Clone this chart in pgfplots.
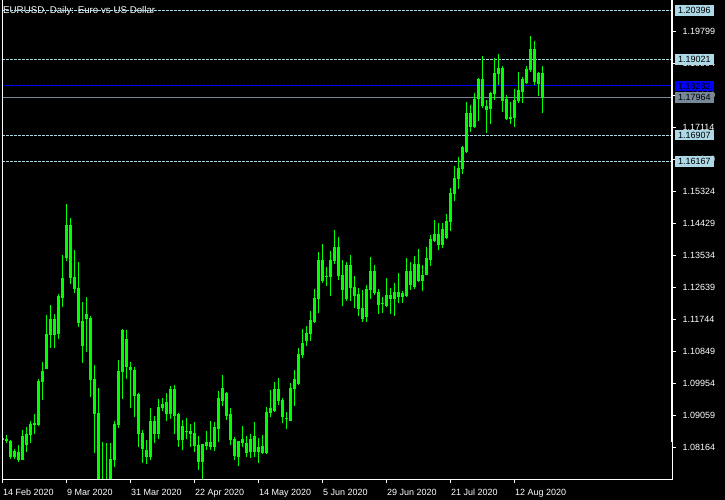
\documentclass[border=0pt]{standalone}
\usepackage{pgfplots}
\pgfplotsset{compat=1.18}
\usepackage{pgfplotstable}
\usepackage{fontspec}
\setmainfont{Liberation Sans}
\definecolor{mtlime}{HTML}{00FF00}
\definecolor{mtlblue}{HTML}{ADD8E6}
\definecolor{mtblue}{HTML}{0000FF}
\definecolor{mtgray}{HTML}{778899}
\pgfplotstableread{
i o h l c
0 1.0838 1.0845 1.0831 1.0843
1 1.0837 1.0851 1.0830 1.0840
2 1.0834 1.0838 1.0786 1.0791
3 1.0791 1.0813 1.0784 1.0806
4 1.0803 1.0823 1.0777 1.0784
5 1.0784 1.0866 1.0782 1.0848
6 1.0826 1.0873 1.0803 1.0854
7 1.0854 1.0890 1.0830 1.0882
8 1.0882 1.0911 1.0854 1.0883
9 1.0880 1.1009 1.0877 1.1002
10 1.1001 1.1055 1.0950 1.1030
11 1.1038 1.1188 1.1036 1.1133
12 1.1133 1.1215 1.1096 1.1174
13 1.1174 1.1190 1.1096 1.1133
14 1.1136 1.1245 1.1119 1.1238
15 1.1236 1.1355 1.1210 1.1290
16 1.1348 1.1498 1.1339 1.1438
17 1.1438 1.1459 1.1275 1.1292
18 1.1292 1.1369 1.1250 1.1261
19 1.1262 1.1336 1.1155 1.1167
20 1.1169 1.1224 1.1054 1.1103
21 1.1189 1.1238 1.1084 1.1178
22 1.1178 1.1186 1.0957 1.1008
23 1.1008 1.1047 1.0802 1.0913
24 1.0913 1.0982 1.0655 1.0692
25 1.0692 1.0831 1.0636 1.0697
26 1.0697 1.0829 1.0637 1.0723
27 1.0723 1.0830 1.0725 1.0784
28 1.0784 1.0891 1.0761 1.0882
29 1.0882 1.1062 1.0871 1.1030
30 1.1030 1.1148 1.0953 1.1145
31 1.1118 1.1146 1.1009 1.1043
32 1.1041 1.1056 1.0926 1.1036
33 1.1031 1.1041 1.0903 1.0962
34 1.0964 1.0968 1.0819 1.0856
35 1.0857 1.0866 1.0773 1.0815
36 1.0809 1.0838 1.0770 1.0791
37 1.0791 1.0927 1.0782 1.0890
38 1.0890 1.0905 1.0830 1.0856
39 1.0856 1.0953 1.0842 1.0930
40 1.0928 1.0954 1.0920 1.0936
41 1.0943 1.0968 1.0892 1.0912
42 1.0912 1.0989 1.0897 1.0980
43 1.0980 1.0991 1.0855 1.0906
44 1.0910 1.0912 1.0817 1.0840
45 1.0840 1.0894 1.0810 1.0877
46 1.0863 1.0899 1.0842 1.0862
47 1.0863 1.0883 1.0817 1.0856
48 1.0857 1.0888 1.0803 1.0822
49 1.0822 1.0849 1.0754 1.0777
50 1.0777 1.0828 1.0727 1.0826
51 1.0822 1.0863 1.0810 1.0830
52 1.0830 1.0891 1.0810 1.0819
53 1.0819 1.0888 1.0808 1.0874
54 1.0870 1.0975 1.0833 1.0953
55 1.0949 1.1020 1.0933 1.0983
56 1.0968 1.0973 1.0894 1.0906
57 1.0908 1.0927 1.0824 1.0838
58 1.0840 1.0845 1.0782 1.0794
59 1.0791 1.0835 1.0766 1.0834
60 1.0830 1.0877 1.0817 1.0840
61 1.0827 1.0849 1.0791 1.0804
62 1.0805 1.0855 1.0787 1.0840
63 1.0847 1.0888 1.0791 1.0807
64 1.0817 1.0843 1.0774 1.0805
65 1.0804 1.0851 1.0800 1.0821
66 1.0802 1.0931 1.0800 1.0916
67 1.0915 1.0978 1.0903 1.0925
68 1.0919 1.1000 1.0916 1.0978
69 1.0978 1.1011 1.0936 1.0947
70 1.0947 1.0955 1.0886 1.0903
71 1.0897 1.0916 1.0869 1.0898
72 1.0892 1.0997 1.0892 1.0983
73 1.0981 1.1034 1.0933 1.1006
74 1.0995 1.1095 1.0992 1.1078
75 1.1076 1.1148 1.1067 1.1109
76 1.1115 1.1157 1.1101 1.1137
77 1.1135 1.1199 1.1115 1.1171
78 1.1168 1.1260 1.1165 1.1235
79 1.1233 1.1364 1.1193 1.1339
80 1.1339 1.1386 1.1277 1.1285
81 1.1296 1.1322 1.1269 1.1295
82 1.1295 1.1367 1.1241 1.1341
83 1.1339 1.1425 1.1330 1.1375
84 1.1375 1.1406 1.1285 1.1298
85 1.1297 1.1341 1.1213 1.1260
86 1.1235 1.1336 1.1227 1.1325
87 1.1325 1.1355 1.1227 1.1264
88 1.1264 1.1297 1.1207 1.1242
89 1.1246 1.1263 1.1185 1.1205
90 1.1206 1.1257 1.1167 1.1178
91 1.1183 1.1271 1.1169 1.1259
92 1.1259 1.1350 1.1231 1.1310
93 1.1310 1.1327 1.1243 1.1250
94 1.1251 1.1260 1.1190 1.1217
95 1.1220 1.1239 1.1194 1.1221
96 1.1215 1.1290 1.1211 1.1242
97 1.1242 1.1262 1.1190 1.1233
98 1.1233 1.1276 1.1185 1.1251
99 1.1251 1.1304 1.1222 1.1239
100 1.1239 1.1255 1.1220 1.1248
101 1.1242 1.1347 1.1239 1.1310
102 1.1310 1.1336 1.1257 1.1273
103 1.1267 1.1353 1.1260 1.1329
104 1.1329 1.1371 1.1280 1.1283
105 1.1283 1.1327 1.1255 1.1299
106 1.1300 1.1378 1.1300 1.1346
107 1.1342 1.1411 1.1325 1.1399
108 1.1397 1.1453 1.1392 1.1414
109 1.1414 1.1445 1.1369 1.1384
110 1.1384 1.1445 1.1374 1.1427
111 1.1404 1.1470 1.1400 1.1449
112 1.1449 1.1543 1.1422 1.1528
113 1.1528 1.1604 1.1506 1.1570
114 1.1569 1.1629 1.1540 1.1598
115 1.1597 1.1660 1.1583 1.1657
116 1.1644 1.1783 1.1642 1.1751
117 1.1752 1.1775 1.1700 1.1714
118 1.1714 1.1807 1.1710 1.1791
119 1.1792 1.1849 1.1731 1.1847
120 1.1847 1.1912 1.1767 1.1773
121 1.1771 1.1789 1.1696 1.1763
122 1.1765 1.1812 1.1722 1.1806
123 1.1806 1.1905 1.1789 1.1863
124 1.1863 1.1918 1.1831 1.1877
125 1.1877 1.1884 1.1756 1.1787
126 1.1789 1.1803 1.1736 1.1737
127 1.1737 1.1784 1.1722 1.1741
128 1.1739 1.1820 1.1712 1.1786
129 1.1786 1.1868 1.1780 1.1814
130 1.1812 1.1854 1.1780 1.1845
131 1.1838 1.1884 1.1834 1.1873
132 1.1873 1.1968 1.1868 1.1931
133 1.1931 1.1955 1.1831 1.1840
134 1.1835 1.1866 1.1800 1.1862
135 1.1862 1.1884 1.1753 1.1796
}\candles
\pgfplotsset{
  mtframe/.style={
    at={(2pt,21pt)}, anchor=south west,
    scale only axis, width=670pt, height=479pt,
    xmin=-0.125, xmax=167.375,
    ymin=1.07288, ymax=1.20685,
  },
  mtdash/.style={line width=1pt, dash pattern=on 2.7pt off 1.3pt},
}
\begin{document}
\begin{tikzpicture}[x=1pt,y=1pt,font=\fontsize{9}{10}\selectfont]
\fill[black] (0,0) rectangle (725,500);
\useasboundingbox (0,0) rectangle (725,500);
\node[anchor=base west, inner sep=0pt, text=white, font=\fontsize{9.75}{11}\selectfont] at (3,486.7) {EURUSD, Daily: Euro vs US Dollar};
% horizontal levels
\begin{axis}[mtframe, hide axis]
\addplot[mtlblue, mtdash] coordinates {(-0.125,1.20396) (167.375,1.20396)};
\addplot[mtlblue, mtdash] coordinates {(-0.125,1.19021) (167.375,1.19021)};
\addplot[mtblue, mtdash] coordinates {(-0.125,1.18282) (167.375,1.18282)};
\addplot[mtgray, line width=1pt] coordinates {(-0.125,1.17964) (167.375,1.17964)};
\addplot[mtlblue, mtdash] coordinates {(-0.125,1.16907) (167.375,1.16907)};
\addplot[mtlblue, mtdash] coordinates {(-0.125,1.16167) (167.375,1.16167)};
\end{axis}
% candles
\begin{axis}[mtframe,
  ybar stacked, bar width=2pt,
  axis x line*=bottom, axis y line*=right,
  axis line style={draw=none},
  xtick={0,16,32,48,64,80,96,112,128},
  xticklabels={14 Feb 2020,9 Mar 2020,31 Mar 2020,22 Apr 2020,14 May 2020,5 Jun 2020,29 Jun 2020,21 Jul 2020,12 Aug 2020},
  ytick={1.08164,1.09059,1.09954,1.10849,1.11744,1.12639,1.13534,1.14429,1.15324,1.16219,1.17114,1.18009,1.18904,1.19799},
  yticklabels={1.08164,1.09059,1.09954,1.10849,1.11744,1.12639,1.13534,1.14429,1.15324,1.16219,1.17114,1.18009,1.18904,1.19799},
  tick align=outside, major tick length=4pt,
  tick style={white, line width=1pt},
  ticklabel style={text=white, font=\fontsize{9}{10}\selectfont, inner sep=0pt},
  xticklabel style={anchor=base west, xshift=0.4pt, yshift=-12.7pt},
  yticklabel style={anchor=west, xshift=6.3pt},
]
\addplot[draw=none, fill=none,
  error bars/.cd, y dir=both, y explicit, error mark=none,
  error bar style={draw=mtlime, line width=1pt}]
  table[x=i, y expr={min(\thisrow{o},\thisrow{c})},
        y error plus expr={\thisrow{h}-min(\thisrow{o},\thisrow{c})},
        y error minus expr={min(\thisrow{o},\thisrow{c})-\thisrow{l}}] {\candles};
\addplot[fill=black, draw=mtlime, line width=1pt]
  table[x=i, y expr={max(\thisrow{c}-\thisrow{o},0)}] {\candles};
\addplot[fill=white, draw=mtlime, line width=1pt]
  table[x=i, y expr={max(\thisrow{o}-\thisrow{c},0)}] {\candles};
\end{axis}
% frame
\draw[white, line width=1pt] (2.5,500) -- (2.5,20.5);
\draw[white, line width=1pt] (2,20.5) -- (673,20.5);
\fill[white] (671,500) rectangle (673,58);
\draw[white, line width=1pt] (672.5,58) -- (672.5,20.5);
% level labels
\tikzset{lvl/.style={anchor=west, inner sep=0pt, minimum width=39.5pt, minimum height=10.7pt, text=black}}
\node[lvl, fill=mtlblue] at (674.5,489.67) {1.20396};
\node[lvl, fill=mtlblue] at (674.5,440.50) {1.19021};
\node[lvl, fill=mtblue] at (674.5,414.08) {1.18282};
\node[lvl, fill=mtgray] at (674.5,402.71) {1.17964};
\node[lvl, fill=mtlblue] at (674.5,364.92) {1.16907};
\node[lvl, fill=mtlblue] at (674.5,338.46) {1.16167};
\end{tikzpicture}
\end{document}
